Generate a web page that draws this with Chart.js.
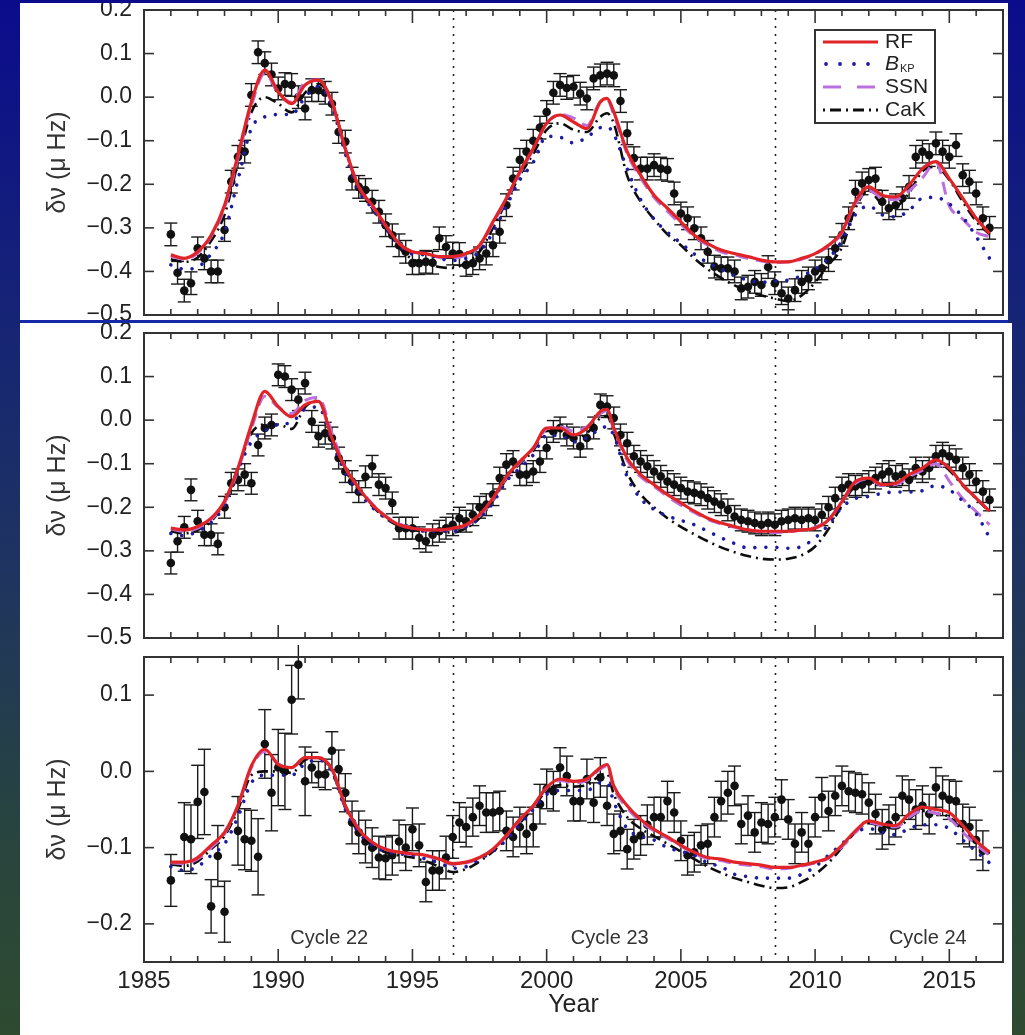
<!DOCTYPE html>
<html>
<head>
<meta charset="utf-8">
<script src="https://cdn.jsdelivr.net/npm/chart.js@4"></script>
<style>
    html, body { margin: 0; padding: 0; }
    body {
        width: 1025px; height: 1035px; overflow: hidden; position: relative;
        background: linear-gradient(to bottom, #0b0c8c 0%, #14207a 25%, #1f3460 55%, #28443f 80%, #2e4b30 100%);
    }
    .panel { position: absolute; background: #fff; overflow: hidden; }
    #p1 { left: 20px; top: 3px; width: 988px; height: 317px; border-bottom: 3px solid #1428a8; }
    #p2 { left: 20px; top: 323px; width: 992px; height: 322px; }
    #p3 { left: 20px; top: 645px; width: 992px; height: 390px; }
    canvas { position: absolute; left: 0; top: 0; }
</style>
</head>
<body>
<div class="panel" id="p1"><canvas id="c1" width="988" height="317"></canvas></div>
<div class="panel" id="p2"><canvas id="c2" width="992" height="322"></canvas></div>
<div class="panel" id="p3"><canvas id="c3" width="992" height="390"></canvas></div>

<script>
// observation epochs (decimal year), shared by all three frequency bands
const epochs = [
    1986.00, 1986.25, 1986.50, 1986.75, 1987.00, 1987.25, 1987.50, 1987.75,
    1988.00, 1988.25, 1988.50, 1988.75, 1989.00, 1989.25, 1989.50, 1989.75,
    1990.00, 1990.25, 1990.50, 1990.75, 1991.00, 1991.25, 1991.50, 1991.75,
    1992.00, 1992.25, 1992.50, 1992.75, 1993.00, 1993.25, 1993.50, 1993.75,
    1994.00, 1994.25, 1994.50, 1994.75, 1995.00, 1995.25, 1995.50, 1995.75,
    1996.00, 1996.25, 1996.50, 1996.75, 1997.00, 1997.25, 1997.50, 1997.75,
    1998.00, 1998.25, 1998.50, 1998.75, 1999.00, 1999.25, 1999.50, 1999.75,
    2000.00, 2000.25, 2000.50, 2000.75, 2001.00, 2001.25, 2001.50, 2001.75,
    2002.00, 2002.25, 2002.50, 2002.75, 2003.00, 2003.25, 2003.50, 2003.75,
    2004.00, 2004.25, 2004.50, 2004.75, 2005.00, 2005.25, 2005.50, 2005.75,
    2006.00, 2006.25, 2006.50, 2006.75, 2007.00, 2007.25, 2007.50, 2007.75,
    2008.00, 2008.25, 2008.50, 2008.75, 2009.00, 2009.25, 2009.50, 2009.75,
    2010.00, 2010.25, 2010.50, 2010.75, 2011.00, 2011.25, 2011.50, 2011.75,
    2012.00, 2012.25, 2012.50, 2012.75, 2013.00, 2013.25, 2013.50, 2013.75,
    2014.00, 2014.25, 2014.50, 2014.75, 2015.00, 2015.25, 2015.50, 2015.75,
    2016.00, 2016.25, 2016.50
];

// measured frequency shifts (uHz), one array per panel
const shiftTop = [
    -0.315, -0.403, -0.444, -0.427, -0.347, -0.370, -0.400, -0.400,
    -0.305, -0.194, -0.137, -0.125, 0.005, 0.103, 0.078, 0.052,
    0.020, 0.030, 0.028, 0.000, -0.026, 0.016, 0.016, 0.010,
    -0.015, -0.080, -0.102, -0.187, -0.206, -0.213, -0.240, -0.263,
    -0.294, -0.317, -0.340, -0.355, -0.381, -0.381, -0.378, -0.380,
    -0.324, -0.344, -0.359, -0.360, -0.385, -0.381, -0.370, -0.359,
    -0.340, -0.309, -0.248, -0.187, -0.144, -0.125, -0.100, -0.070,
    -0.034, 0.010, 0.028, 0.021, 0.024, 0.008, -0.003, 0.043,
    0.050, 0.054, 0.050, -0.009, -0.083, -0.140, -0.164, -0.164,
    -0.156, -0.164, -0.167, -0.221, -0.267, -0.278, -0.301, -0.324,
    -0.355, -0.389, -0.393, -0.393, -0.400, -0.439, -0.435, -0.424,
    -0.431, -0.390, -0.427, -0.450, -0.462, -0.443, -0.424, -0.416,
    -0.400, -0.393, -0.374, -0.347, -0.316, -0.278, -0.217, -0.198,
    -0.190, -0.187, -0.240, -0.255, -0.248, -0.232, -0.206, -0.137,
    -0.125, -0.133, -0.106, -0.125, -0.137, -0.110, -0.179, -0.194,
    -0.221, -0.278, -0.300
];
const shiftMid = [
    -0.328, -0.278, -0.246, -0.160, -0.232, -0.263, -0.263, -0.284,
    -0.200, -0.145, -0.137, -0.125, -0.145, -0.057, -0.018, -0.011,
    0.104, 0.100, 0.070, 0.047, 0.085, -0.003, -0.037, -0.030,
    -0.041, -0.087, -0.118, -0.141, -0.164, -0.130, -0.106, -0.148,
    -0.156, -0.190, -0.248, -0.248, -0.248, -0.270, -0.278, -0.263,
    -0.255, -0.248, -0.240, -0.225, -0.232, -0.217, -0.200, -0.194,
    -0.171, -0.133, -0.102, -0.095, -0.125, -0.125, -0.118, -0.095,
    -0.064, -0.026, -0.018, -0.034, -0.041, -0.060, -0.041, -0.018,
    0.035, 0.031, 0.005, -0.034, -0.053, -0.083, -0.095, -0.106,
    -0.118, -0.129, -0.141, -0.148, -0.156, -0.164, -0.167, -0.171,
    -0.179, -0.187, -0.194, -0.206, -0.221, -0.229, -0.232, -0.236,
    -0.240, -0.236, -0.240, -0.232, -0.229, -0.225, -0.229, -0.225,
    -0.229, -0.217, -0.200, -0.179, -0.156, -0.148, -0.152, -0.148,
    -0.141, -0.133, -0.125, -0.118, -0.129, -0.125, -0.137, -0.110,
    -0.118, -0.110, -0.083, -0.076, -0.083, -0.091, -0.110, -0.125,
    -0.141, -0.164, -0.183
];
const shiftLow = [
    -0.143, null, -0.086, -0.089, -0.040, -0.027, -0.177, -0.111,
    -0.184, null, -0.078, -0.089, -0.091, -0.112, 0.036, -0.028,
    0.005, 0.000, 0.094, 0.140, -0.013, 0.005, -0.004, -0.004,
    0.027, 0.003, -0.028, -0.067, -0.080, -0.092, -0.100, -0.113,
    -0.114, -0.110, -0.092, -0.100, -0.076, -0.097, -0.145, -0.130,
    -0.130, -0.113, -0.086, -0.067, -0.073, -0.060, -0.045, -0.054,
    -0.054, -0.052, -0.078, -0.086, -0.073, -0.082, -0.073, -0.043,
    -0.023, -0.026, 0.005, -0.006, -0.039, -0.039, -0.010, -0.041,
    -0.008, -0.045, -0.082, -0.078, -0.102, -0.089, -0.084, -0.070,
    -0.060, -0.060, -0.039, -0.054, -0.091, -0.110, -0.106, -0.097,
    -0.095, -0.060, -0.039, -0.028, -0.019, -0.069, -0.058, -0.080,
    -0.067, -0.069, -0.060, -0.037, -0.063, -0.095, -0.080, -0.095,
    -0.060, -0.034, -0.052, -0.032, -0.019, -0.026, -0.028, -0.030,
    -0.041, -0.056, -0.076, -0.070, -0.060, -0.032, -0.037, -0.050,
    -0.045, -0.056, -0.021, -0.032, -0.037, -0.039, -0.069, -0.073,
    -0.090, -0.104, null
];

// 1-sigma uncertainties
const errTop = 0.026;
const errMid = 0.025;
const errLow = [
    0.034, 0.040, 0.045, 0.045, 0.048, 0.056, 0.035, 0.040,
    0.040, 0.040, 0.045, 0.040, 0.040, 0.050, 0.045, 0.050,
    0.050, 0.050, 0.045, 0.045, 0.045, 0.020, 0.017, 0.020,
    0.025, 0.025, 0.025, 0.028, 0.028, 0.028, 0.026, 0.028,
    0.028, 0.026, 0.028, 0.030, 0.028, 0.028, 0.026, 0.026,
    0.026, 0.028, 0.028, 0.026, 0.026, 0.025, 0.026, 0.026,
    0.026, 0.026, 0.026, 0.026, 0.026, 0.026, 0.026, 0.026,
    0.026, 0.026, 0.026, 0.026, 0.026, 0.026, 0.026, 0.026,
    0.026, 0.026, 0.026, 0.026, 0.026, 0.026, 0.026, 0.026,
    0.026, 0.026, 0.026, 0.026, 0.026, 0.026, 0.026, 0.026,
    0.026, 0.026, 0.026, 0.028, 0.026, 0.026, 0.026, 0.026,
    0.026, 0.026, 0.026, 0.026, 0.026, 0.026, 0.026, 0.026,
    0.026, 0.026, 0.026, 0.026, 0.026, 0.026, 0.026, 0.026,
    0.026, 0.026, 0.026, 0.026, 0.026, 0.026, 0.026, 0.026,
    0.026, 0.026, 0.026, 0.026, 0.026, 0.026, 0.026, 0.026,
    0.026, 0.026, 0.026
];

// model curves from the activity proxies
const modelYears = [
    1986, 1986.5, 1987, 1987.5, 1988, 1988.5, 1989, 1989.5, 1990, 1990.5,
    1991, 1991.5, 1992, 1992.5, 1993, 1993.5, 1994, 1994.5, 1995, 1995.5,
    1996, 1996.5, 1997, 1997.5, 1998, 1998.5, 1999, 1999.5, 2000, 2000.5,
    2001, 2001.5, 2002, 2002.25, 2002.5, 2003, 2003.5, 2004, 2004.5, 2005, 2005.5,
    2006, 2006.5, 2007, 2007.5, 2008, 2008.5, 2009, 2009.5, 2010, 2010.5,
    2011, 2011.5, 2012, 2012.5, 2013, 2013.5, 2014, 2014.5, 2015, 2015.5, 2016, 2016.5
];

const rfTop = [
    -0.362, -0.370, -0.355, -0.317, -0.248, -0.133, -0.011, 0.062, 0.012, -0.015,
    0.028, 0.039, -0.011, -0.118, -0.206, -0.248, -0.294, -0.336, -0.355, -0.359,
    -0.366, -0.366, -0.359, -0.340, -0.286, -0.232, -0.171, -0.118, -0.060, -0.041,
    -0.057, -0.072, -0.011, -0.003, -0.034, -0.125, -0.179, -0.225, -0.255, -0.286, -0.317,
    -0.336, -0.351, -0.359, -0.366, -0.374, -0.378, -0.378, -0.370, -0.359, -0.340,
    -0.309, -0.240, -0.206, -0.225, -0.229, -0.202, -0.164, -0.148, -0.187, -0.232, -0.278, -0.313
];
const bkpTop = [
    -0.385, -0.395, -0.390, -0.360, -0.310, -0.190, -0.072, -0.045, -0.040, -0.040,
    0.000, 0.025, -0.020, -0.130, -0.215, -0.255, -0.300, -0.340, -0.360, -0.362,
    -0.370, -0.375, -0.370, -0.355, -0.310, -0.250, -0.190, -0.150, -0.090, -0.092,
    -0.105, -0.092, -0.070, -0.068, -0.085, -0.165, -0.235, -0.280, -0.310, -0.335, -0.360,
    -0.380, -0.395, -0.410, -0.420, -0.425, -0.422, -0.420, -0.410, -0.395, -0.370,
    -0.330, -0.270, -0.250, -0.270, -0.275, -0.260, -0.232, -0.230, -0.245, -0.275, -0.320, -0.370
];
const ssnTop = [
    -0.365, -0.372, -0.358, -0.320, -0.255, -0.140, -0.020, 0.055, 0.010, -0.012,
    0.035, 0.040, -0.015, -0.120, -0.205, -0.250, -0.295, -0.335, -0.355, -0.360,
    -0.368, -0.370, -0.362, -0.342, -0.290, -0.235, -0.175, -0.120, -0.060, -0.040,
    -0.048, -0.065, -0.010, -0.005, -0.040, -0.130, -0.185, -0.230, -0.262, -0.292, -0.320,
    -0.340, -0.355, -0.362, -0.370, -0.376, -0.380, -0.378, -0.372, -0.360, -0.342,
    -0.312, -0.245, -0.215, -0.232, -0.235, -0.215, -0.185, -0.150, -0.250, -0.280, -0.310, -0.320
];
const cakTop = [
    -0.372, -0.378, -0.368, -0.330, -0.270, -0.150, -0.035, 0.000, -0.015, -0.035,
    0.010, 0.030, -0.010, -0.120, -0.210, -0.255, -0.300, -0.345, -0.372, -0.380,
    -0.390, -0.392, -0.380, -0.355, -0.300, -0.240, -0.180, -0.130, -0.075, -0.060,
    -0.075, -0.080, -0.045, -0.037, -0.060, -0.180, -0.240, -0.280, -0.315, -0.340, -0.370,
    -0.395, -0.415, -0.432, -0.445, -0.455, -0.462, -0.468, -0.455, -0.425, -0.385,
    -0.345, -0.255, -0.215, -0.245, -0.250, -0.220, -0.170, -0.160, -0.190, -0.240, -0.285, -0.315
];

const rfMid = [
    -0.248, -0.252, -0.244, -0.225, -0.186, -0.110, -0.011, 0.066, 0.031, 0.008,
    0.035, 0.043, -0.041, -0.110, -0.156, -0.194, -0.221, -0.240, -0.248, -0.252,
    -0.252, -0.248, -0.240, -0.217, -0.179, -0.129, -0.095, -0.064, -0.018, -0.018,
    -0.034, -0.018, 0.020, 0.025, -0.018, -0.087, -0.125, -0.148, -0.171, -0.190, -0.209,
    -0.225, -0.236, -0.244, -0.252, -0.255, -0.255, -0.255, -0.252, -0.248, -0.229,
    -0.187, -0.141, -0.133, -0.148, -0.145, -0.125, -0.110, -0.091, -0.110, -0.148, -0.179, -0.209
];
const bkpMid = [
    -0.260, -0.265, -0.255, -0.235, -0.195, -0.115, -0.050, -0.025, -0.010, -0.005,
    0.025, 0.030, -0.050, -0.120, -0.165, -0.200, -0.225, -0.240, -0.250, -0.255,
    -0.255, -0.255, -0.245, -0.225, -0.190, -0.140, -0.110, -0.080, -0.035, -0.035,
    -0.050, -0.040, -0.020, -0.015, -0.035, -0.130, -0.180, -0.205, -0.220, -0.230, -0.240,
    -0.255, -0.270, -0.283, -0.293, -0.292, -0.292, -0.294, -0.290, -0.270, -0.240,
    -0.200, -0.180, -0.175, -0.168, -0.165, -0.165, -0.162, -0.150, -0.160, -0.185, -0.215, -0.270
];
const ssnMid = [
    -0.250, -0.255, -0.248, -0.228, -0.190, -0.115, -0.020, 0.055, 0.030, 0.015,
    0.045, 0.052, -0.030, -0.108, -0.155, -0.192, -0.220, -0.238, -0.247, -0.252,
    -0.253, -0.250, -0.242, -0.220, -0.182, -0.132, -0.097, -0.065, -0.020, -0.015,
    -0.025, -0.015, 0.015, 0.022, -0.022, -0.092, -0.130, -0.152, -0.175, -0.195, -0.212,
    -0.228, -0.238, -0.246, -0.252, -0.256, -0.258, -0.256, -0.252, -0.246, -0.228,
    -0.188, -0.145, -0.135, -0.150, -0.148, -0.130, -0.115, -0.100, -0.140, -0.180, -0.210, -0.240
];
const cakMid = [
    -0.255, -0.260, -0.252, -0.232, -0.190, -0.110, -0.030, -0.010, -0.010, -0.020,
    0.030, 0.045, -0.040, -0.115, -0.160, -0.197, -0.225, -0.243, -0.252, -0.256,
    -0.258, -0.258, -0.248, -0.225, -0.185, -0.135, -0.100, -0.070, -0.025, -0.025,
    -0.040, -0.030, 0.005, 0.010, -0.030, -0.120, -0.170, -0.200, -0.225, -0.245, -0.262,
    -0.278, -0.292, -0.303, -0.312, -0.318, -0.320, -0.318, -0.310, -0.290, -0.250,
    -0.195, -0.150, -0.140, -0.150, -0.150, -0.135, -0.118, -0.095, -0.115, -0.150, -0.180, -0.210
];

const rfLow = [
    -0.119, -0.119, -0.113, -0.097, -0.080, -0.045, 0.007, 0.029, 0.009, 0.005,
    0.018, 0.018, 0.003, -0.045, -0.076, -0.093, -0.102, -0.106, -0.108, -0.110,
    -0.115, -0.121, -0.119, -0.113, -0.102, -0.084, -0.063, -0.045, -0.021, -0.010,
    -0.013, -0.010, 0.005, 0.009, -0.019, -0.045, -0.063, -0.076, -0.086, -0.097, -0.106,
    -0.113, -0.115, -0.119, -0.121, -0.123, -0.126, -0.126, -0.123, -0.119, -0.113,
    -0.097, -0.078, -0.065, -0.069, -0.071, -0.056, -0.047, -0.050, -0.054, -0.071, -0.091, -0.106
];
const bkpLow = [
    -0.125, -0.130, -0.125, -0.110, -0.095, -0.060, -0.015, -0.005, -0.005, -0.005,
    0.010, 0.015, 0.000, -0.050, -0.080, -0.097, -0.105, -0.108, -0.110, -0.115,
    -0.120, -0.127, -0.125, -0.115, -0.105, -0.090, -0.070, -0.050, -0.030, -0.025,
    -0.025, -0.025, -0.015, -0.015, -0.040, -0.075, -0.085, -0.090, -0.100, -0.105, -0.110,
    -0.120, -0.125, -0.135, -0.138, -0.140, -0.140, -0.140, -0.135, -0.125, -0.110,
    -0.095, -0.080, -0.075, -0.080, -0.083, -0.075, -0.070, -0.070, -0.075, -0.090, -0.105, -0.120
];
const ssnLow = [
    -0.120, -0.121, -0.115, -0.100, -0.082, -0.045, 0.005, 0.026, 0.010, 0.005,
    0.018, 0.018, 0.002, -0.045, -0.075, -0.093, -0.102, -0.107, -0.109, -0.111,
    -0.116, -0.122, -0.120, -0.114, -0.102, -0.085, -0.064, -0.046, -0.022, -0.012,
    -0.015, -0.012, 0.003, 0.007, -0.022, -0.048, -0.066, -0.078, -0.088, -0.098, -0.108,
    -0.114, -0.117, -0.121, -0.123, -0.125, -0.128, -0.127, -0.124, -0.120, -0.114,
    -0.099, -0.080, -0.067, -0.071, -0.073, -0.060, -0.052, -0.055, -0.062, -0.080, -0.096, -0.110
];
const cakLow = [
    -0.122, -0.124, -0.118, -0.102, -0.085, -0.050, -0.005, 0.000, 0.000, -0.002,
    0.015, 0.018, 0.000, -0.048, -0.080, -0.097, -0.106, -0.110, -0.113, -0.118,
    -0.125, -0.132, -0.128, -0.118, -0.105, -0.088, -0.068, -0.048, -0.025, -0.018,
    -0.020, -0.018, -0.005, -0.003, -0.030, -0.060, -0.075, -0.085, -0.095, -0.105, -0.115,
    -0.125, -0.133, -0.140, -0.145, -0.150, -0.153, -0.152, -0.145, -0.135, -0.120,
    -0.100, -0.080, -0.068, -0.072, -0.075, -0.062, -0.052, -0.055, -0.060, -0.078, -0.093, -0.108
];

// axis ticks
const ticksWide = [-0.5, -0.4, -0.3, -0.2, -0.1, 0.0, 0.1, 0.2];
const ticksNarrow = [-0.2, -0.1, 0.0, 0.1];
const yearTicks = [1985, 1990, 1995, 2000, 2005, 2010, 2015];

const cycleMinima = [1996.5, 2008.5];
const cycleNames = ['Cycle 22', 'Cycle 23', 'Cycle 24'];
const cycleLabelX = [1991.9, 2002.35, 2014.2];

const FONT = "'Liberation Sans', Arial, Helvetica, sans-serif";
const RED = 'rgb(224, 36, 40)';
const BLUE = 'rgb(28, 28, 160)';
const PURPLE = 'rgb(188, 112, 222)';
const BLACK = 'rgb(12, 12, 12)';

const toXY = (xs, ys) => xs.map((x, i) => ({ x: x, y: ys[i] }));
const fixedTicks = values => scale => { scale.ticks = values.map(v => ({ value: v })); };
const fmtShift = v => (Math.abs(v) < 1e-9 ? '0.0' : v.toFixed(1).replace('-', '\u2212'));

function strokeLine(ctx, x1, y1, x2, y2) {
    ctx.beginPath();
    ctx.moveTo(x1, y1);
    ctx.lineTo(x2, y2);
    ctx.stroke();
}

function drawLegend(ctx, left, top) {
    const w = 120, h = 93;
    ctx.fillStyle = '#fff';
    ctx.fillRect(left, top, w, h);
    ctx.strokeStyle = '#333';
    ctx.lineWidth = 2;
    ctx.strokeRect(left, top, w, h);

    const x0 = left + 8, x1 = left + 63, tx = left + 70;
    const rows = [top + 12, top + 34, top + 57, top + 80];
    ctx.lineCap = 'butt';

    // RF
    ctx.strokeStyle = RED; ctx.lineWidth = 3.2; ctx.setLineDash([]);
    strokeLine(ctx, x0, rows[0], x1, rows[0]);
    // B_KP
    ctx.fillStyle = BLUE;
    [x0 + 3, x0 + 17, x0 + 31, x0 + 45].forEach(px => {
        ctx.beginPath(); ctx.arc(px, rows[1], 1.9, 0, Math.PI * 2); ctx.fill();
    });
    // SSN
    ctx.strokeStyle = PURPLE; ctx.lineWidth = 3;
    strokeLine(ctx, x0, rows[2], x0 + 18, rows[2]);
    strokeLine(ctx, x0 + 34, rows[2], x0 + 52, rows[2]);
    // CaK
    ctx.strokeStyle = BLACK; ctx.lineWidth = 2.8; ctx.setLineDash([2, 5, 11, 5]);
    strokeLine(ctx, x0, rows[3], x1, rows[3]);
    ctx.setLineDash([]);

    ctx.fillStyle = '#222';
    ctx.textBaseline = 'middle';
    ctx.textAlign = 'left';
    ctx.font = '21px ' + FONT;
    ctx.fillText('RF', tx, rows[0]);
    ctx.fillText('SSN', tx, rows[2]);
    ctx.fillText('CaK', tx, rows[3]);
    ctx.font = 'italic 21px ' + FONT;
    ctx.fillText('B', tx, rows[1]);
    const bw = ctx.measureText('B').width;
    ctx.font = '11px ' + FONT;
    ctx.fillText('KP', tx + bw + 1, rows[1] + 5);
}

// frame, inward ticks, cycle-minimum markers and error bars
const panelDecor = {
    id: 'panelDecor',
    beforeDatasetsDraw(chart) {
        const { ctx, chartArea: a, scales: { x, y } } = chart;
        ctx.save();
        ctx.strokeStyle = '#222';
        ctx.lineWidth = 1.6;
        ctx.setLineDash([2, 6]);
        cycleMinima.forEach(t => {
            const px = Math.round(x.getPixelForValue(t)) + 0.5;
            strokeLine(ctx, px, a.top, px, a.bottom);
        });
        ctx.setLineDash([]);

        const ds = chart.data.datasets.find(d => d.errors !== undefined);
        ctx.strokeStyle = '#1a1a1a';
        ctx.lineWidth = 1.4;
        ds.data.forEach((p, i) => {
            if (p.y === null) return;
            const e = Array.isArray(ds.errors) ? ds.errors[i] : ds.errors;
            const px = x.getPixelForValue(p.x);
            const yHi = y.getPixelForValue(p.y + e);
            const yLo = y.getPixelForValue(p.y - e);
            strokeLine(ctx, px, yHi, px, yLo);
            strokeLine(ctx, px - 6.5, yHi, px + 6.5, yHi);
            strokeLine(ctx, px - 6.5, yLo, px + 6.5, yLo);
        });
        ctx.restore();
    },
    afterDraw(chart, args, opts) {
        const { ctx, chartArea: a, scales: { x, y } } = chart;
        ctx.save();
        ctx.strokeStyle = '#333';
        ctx.lineWidth = 1.6;
        for (let yr = 1986; yr < 2017; yr++) {
            const px = x.getPixelForValue(yr);
            const len = yr % 5 === 0 ? 13 : 6;
            strokeLine(ctx, px, a.bottom, px, a.bottom - len);
            strokeLine(ctx, px, a.top, px, a.top + len);
        }
        y.ticks.forEach(t => {
            const py = y.getPixelForValue(t.value);
            strokeLine(ctx, a.left, py, a.left + 10, py);
            strokeLine(ctx, a.right, py, a.right - 10, py);
        });
        ctx.lineWidth = 2;
        ctx.strokeRect(a.left, a.top, a.right - a.left, a.bottom - a.top);

        if (opts.legend) drawLegend(ctx, a.right - 188, a.top + 20);

        if (opts.cycles) {
            ctx.fillStyle = '#333';
            ctx.font = '20px ' + FONT;
            ctx.textAlign = 'center';
            ctx.textBaseline = 'middle';
            cycleNames.forEach((name, i) => {
                ctx.fillText(name, x.getPixelForValue(cycleLabelX[i]), y.getPixelForValue(-0.219));
            });
        }
        ctx.restore();
    }
};

function makePanel(canvasId, cfg) {
    const xAxis = cfg.showYears ? {
        type: 'linear', min: 1985, max: 2017,
        grid: { display: false, drawTicks: false },
        border: { display: false },
        afterBuildTicks: fixedTicks(yearTicks),
        ticks: {
            padding: 5, autoSkip: false, maxRotation: 0,
            color: '#222', font: { size: 24, family: FONT },
            callback: v => String(v)
        },
        title: { display: true, text: 'Year', color: '#222', font: { size: 25, family: FONT }, padding: 0 },
        afterFit(scale) { scale.height = 58; scale.paddingLeft = 0; scale.paddingRight = 0; }
    } : { type: 'linear', min: 1985, max: 2017, display: false };

    return new Chart(document.getElementById(canvasId), {
        type: 'scatter',
        data: {
            datasets: [
                { type: 'line', label: 'RF', data: toXY(modelYears, cfg.rf), borderColor: RED, borderWidth: 3.2,
                  pointRadius: 0, cubicInterpolationMode: 'monotone', order: 0 },
                { type: 'line', label: 'BKP', data: toXY(modelYears, cfg.bkp), borderColor: BLUE, borderWidth: 3.6,
                  borderDash: [0.01, 11], borderCapStyle: 'round', pointRadius: 0, cubicInterpolationMode: 'monotone', order: 1 },
                { type: 'line', label: 'SSN', data: toXY(modelYears, cfg.ssn), borderColor: PURPLE, borderWidth: 3,
                  borderDash: [13, 8], pointRadius: 0, cubicInterpolationMode: 'monotone', order: 2 },
                { type: 'line', label: 'CaK', data: toXY(modelYears, cfg.cak), borderColor: BLACK, borderWidth: 2.6,
                  borderDash: [11, 5, 2, 5], pointRadius: 0, cubicInterpolationMode: 'monotone', order: 3 },
                { label: 'data', data: toXY(epochs, cfg.shift), errors: cfg.err,
                  backgroundColor: '#111', borderColor: '#111', pointRadius: 4.3, pointBorderWidth: 0, order: 4 }
            ]
        },
        options: {
            responsive: false,
            animation: false,
            events: [],
            layout: { autoPadding: false, padding: cfg.padding },
            plugins: {
                legend: { display: false },
                tooltip: { enabled: false },
                panelDecor: { legend: !!cfg.legend, cycles: !!cfg.cycles }
            },
            scales: {
                x: xAxis,
                y: {
                    min: cfg.yMin, max: cfg.yMax,
                    grid: { display: false, drawTicks: false },
                    border: { display: false },
                    afterBuildTicks: fixedTicks(cfg.yTicks),
                    ticks: {
                        padding: 12, color: '#222', font: { size: 23, family: FONT },
                        callback: fmtShift
                    },
                    title: {
                        display: true, text: 'δν (μ Hz)', color: '#333',
                        font: { size: 25, family: FONT }, padding: { top: 23, bottom: 0 }
                    },
                    afterFit(scale) { scale.width = 124; scale.paddingTop = 0; scale.paddingBottom = 0; }
                }
            }
        },
        plugins: [panelDecor]
    });
}

makePanel('c1', {
    shift: shiftTop, err: errTop, rf: rfTop, bkp: bkpTop, ssn: ssnTop, cak: cakTop,
    yMin: -0.5, yMax: 0.2, yTicks: ticksWide, legend: true,
    padding: { left: 0, right: 5, top: 7, bottom: 5 }
});
makePanel('c2', {
    shift: shiftMid, err: errMid, rf: rfMid, bkp: bkpMid, ssn: ssnMid, cak: cakMid,
    yMin: -0.5, yMax: 0.2, yTicks: ticksWide,
    padding: { left: 0, right: 9, top: 10, bottom: 7 }
});
makePanel('c3', {
    shift: shiftLow, err: errLow, rf: rfLow, bkp: bkpLow, ssn: ssnLow, cak: cakLow,
    yMin: -0.25, yMax: 0.15, yTicks: ticksNarrow, cycles: true, showYears: true,
    padding: { left: 0, right: 9, top: 12, bottom: 15 }
});
</script>
</body>
</html>
